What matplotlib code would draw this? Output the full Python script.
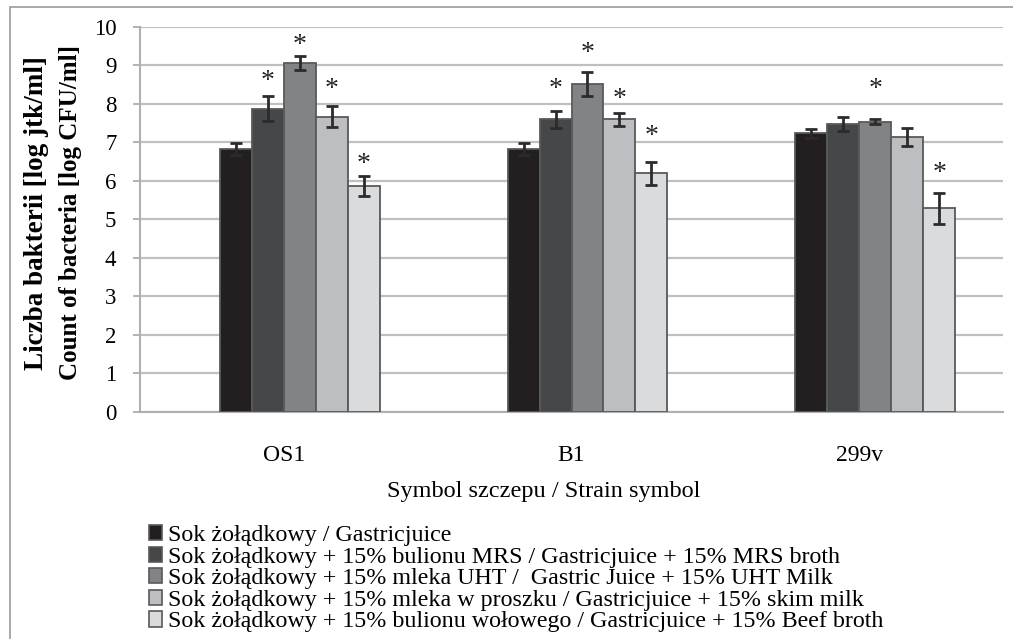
import matplotlib
matplotlib.use("Agg")
import matplotlib.pyplot as plt
from matplotlib.patches import Rectangle, Patch
import numpy as np

plt.rcParams['font.family'] = ['Liberation Serif', 'DejaVu Serif']

categories = ["OS1", "B1", "299v"]
series_labels = [
    "Sok żołądkowy / Gastricjuice",
    "Sok żołądkowy + 15% bulionu MRS / Gastricjuice + 15% MRS broth",
    "Sok żołądkowy + 15% mleka UHT /  Gastric Juice + 15% UHT Milk",
    "Sok żołądkowy + 15% mleka w proszku / Gastricjuice + 15% skim milk",
    "Sok żołądkowy + 15% bulionu wołowego / Gastricjuice + 15% Beef broth",
]
values = [
    [6.82, 6.82, 7.23],
    [7.87, 7.59, 7.47],
    [9.05, 8.51, 7.53],
    [7.66, 7.59, 7.14],
    [5.86, 6.19, 5.28],
]
errors = [
    [0.15, 0.15, 0.12],
    [0.32, 0.21, 0.19],
    [0.18, 0.32, 0.07],
    [0.27, 0.18, 0.23],
    [0.25, 0.29, 0.41],
]
# asterisk positions (value units), None = no asterisk
asterisks = [
    [None, None, None],
    [8.57, 8.36, None],
    [9.52, 9.31, 8.36],
    [8.36, 8.10, None],
    [6.43, 7.14, 6.19],
]
colors = ["#231f20", "#464749", "#828386", "#bdbec1", "#dadbdd"]
yticks = list(range(0, 11))

W, H = 1013, 639
fig = plt.figure(figsize=(W / 100, H / 100), dpi=100)
ax = fig.add_axes([140 / W, 1 - 411.7 / H, (1003 - 140) / W, (411.7 - 26.7) / H])

x = np.arange(len(categories))
bw = 32 / 287.7
for i, (vals, errs, col) in enumerate(zip(values, errors, colors)):
    off = (i + 1 - 2.5) * bw
    ax.bar(x + off, vals, bw, color=col, edgecolor="#58595b", linewidth=1.3, zorder=3)
    ax.errorbar(x + off, vals, yerr=errs, fmt="none", ecolor="#2b2b2b",
                elinewidth=2, capsize=4, capthick=2, zorder=4)
    for j, a in enumerate(asterisks[i]):
        if a is not None:
            ax.text(x[j] + off, a, "*", ha="center", va="center", fontsize=20,
                    color="#222222", zorder=5)

ax.set_xlim(-0.5, 2.5)
ax.set_ylim(0, 10)
ax.set_yticks(yticks)
ax.set_xticks(x)
ax.set_xticklabels(categories, fontsize=17)
ax.tick_params(axis="x", length=0, pad=24)
ax.tick_params(axis="y", length=5, width=1.2, color="#a6a6a6", pad=12, labelsize=16.5)
ax.yaxis.grid(True, color="#c0c0c0", linewidth=1.6, zorder=0)
ax.set_axisbelow(True)
for s in ["top", "right"]:
    ax.spines[s].set_visible(False)
for s in ["left", "bottom"]:
    ax.spines[s].set_color("#b0b0b0")
    ax.spines[s].set_linewidth(1.5)

fig.text(37 / W, 1 - 213 / H, "Liczba bakterii [log jtk/ml]", rotation=90,
         ha="center", va="center", fontsize=19.5, fontweight="bold")
fig.text(71 / W, 1 - 213 / H, "Count of bacteria [log CFU/ml]", rotation=90,
         ha="center", va="center", fontsize=18, fontweight="bold")
fig.text(544 / W, 1 - 492 / H, "Symbol szczepu / Strain symbol", ha="center",
         va="center", fontsize=17.5)

handles = [Patch(facecolor=c, edgecolor="#58595b", linewidth=1.2) for c in colors]
fig.legend(handles, series_labels, loc="upper left",
           bbox_to_anchor=(149 / W, 1 - 525 / H), frameon=False, fontsize=17.3,
           handlelength=0.55, handleheight=0.6, handletextpad=0.25,
           labelspacing=0.02, borderpad=0, borderaxespad=0)

fig.add_artist(Rectangle((10 / W, -0.05), 1.1, 1 - 7 / H + 0.05, transform=fig.transFigure,
                         fill=False, edgecolor="#9a9a9a", linewidth=1.2, clip_on=False))

fig.savefig("out.png", dpi=100)
